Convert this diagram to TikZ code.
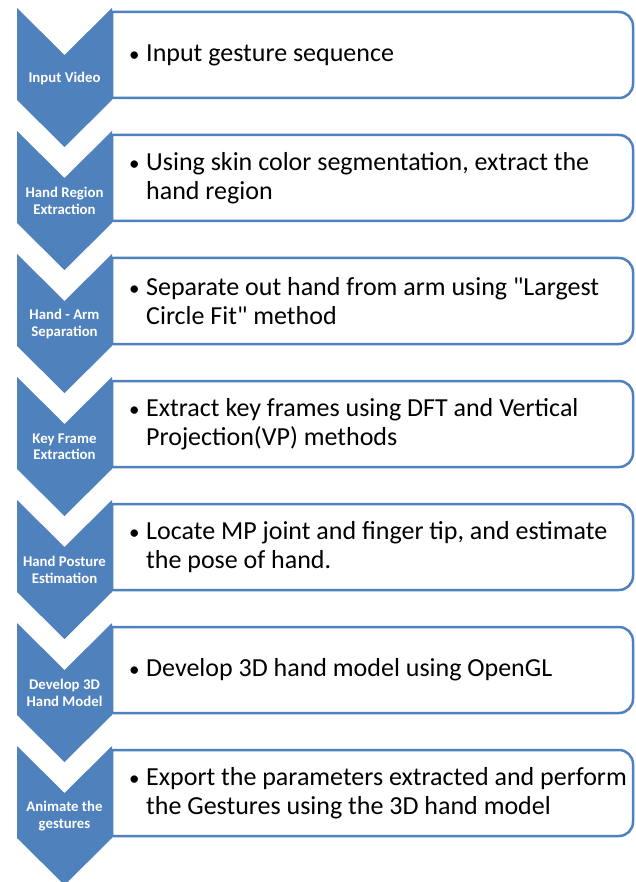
\documentclass[tikz,border=0pt]{standalone}
\usepackage{fontspec}
\setmainfont{Carlito}
\definecolor{cblue}{HTML}{4F81BD}
\begin{document}
\begin{tikzpicture}[x=1pt,y=-1pt,
  chev/.style={fill=cblue},
  chevlabel/.style={font=\fontsize{14.8}{16.5}\selectfont\bfseries, text=white, align=center, inner sep=0pt},
  boxline/.style={draw=cblue, line width=2.5pt, fill=white},
  boxtext/.style={anchor=west, inner sep=0pt, font=\fontsize{26}{29.5}\selectfont}]
\useasboundingbox (0,0) rectangle (635,882);
\foreach \i/\lab/\txt in {
 1/{Input Video}/{Input gesture sequence},
 2/{Hand Region\\Extraction}/{Using skin color segmentation, extract the\newline hand region},
 3/{Hand - Arm\\Separation}/{Separate out hand from arm using \textquotedbl Largest\newline Circle Fit\textquotedbl{} method},
 4/{Key Frame\\Extraction}/{Extract key frames using DFT and Vertical\newline Projection(VP) methods},
 5/{Hand Posture\\Estimation}/{Locate MP joint and finger tip, and estimate\newline the pose of hand.},
 6/{Develop 3D\\Hand Model}/{Develop 3D hand model using OpenGL},
 7/{Animate the\\gestures}/{Export the parameters extracted and perform\newline the Gestures using the 3D hand model}}{
  \pgfmathsetmacro\T{8+(\i-1)*123}
  \fill[chev] (17,\T) -- (64.5,\T+47) -- (112,\T) -- (112,\T+92) -- (64.5,\T+139) -- (17,\T+92) -- cycle;
  \node[chevlabel] (c\i) at (64.5,\T+70) {\lab};
  \path[boxline] (112,\T+90) -- (112,\T+4) -- (619,\T+4) arc (-90:0:14) -- (633,\T+76) arc (0:90:14) -- cycle;
  \node[boxtext] (t\i) at (128,\T+47) {\parbox{500pt}{\raggedright\hangindent=18pt\hangafter=1\noindent\makebox[18pt][l]{\hspace{1pt}{\fontsize{21}{21}\selectfont\textbullet}}\txt}};
}
\end{tikzpicture}
\end{document}
